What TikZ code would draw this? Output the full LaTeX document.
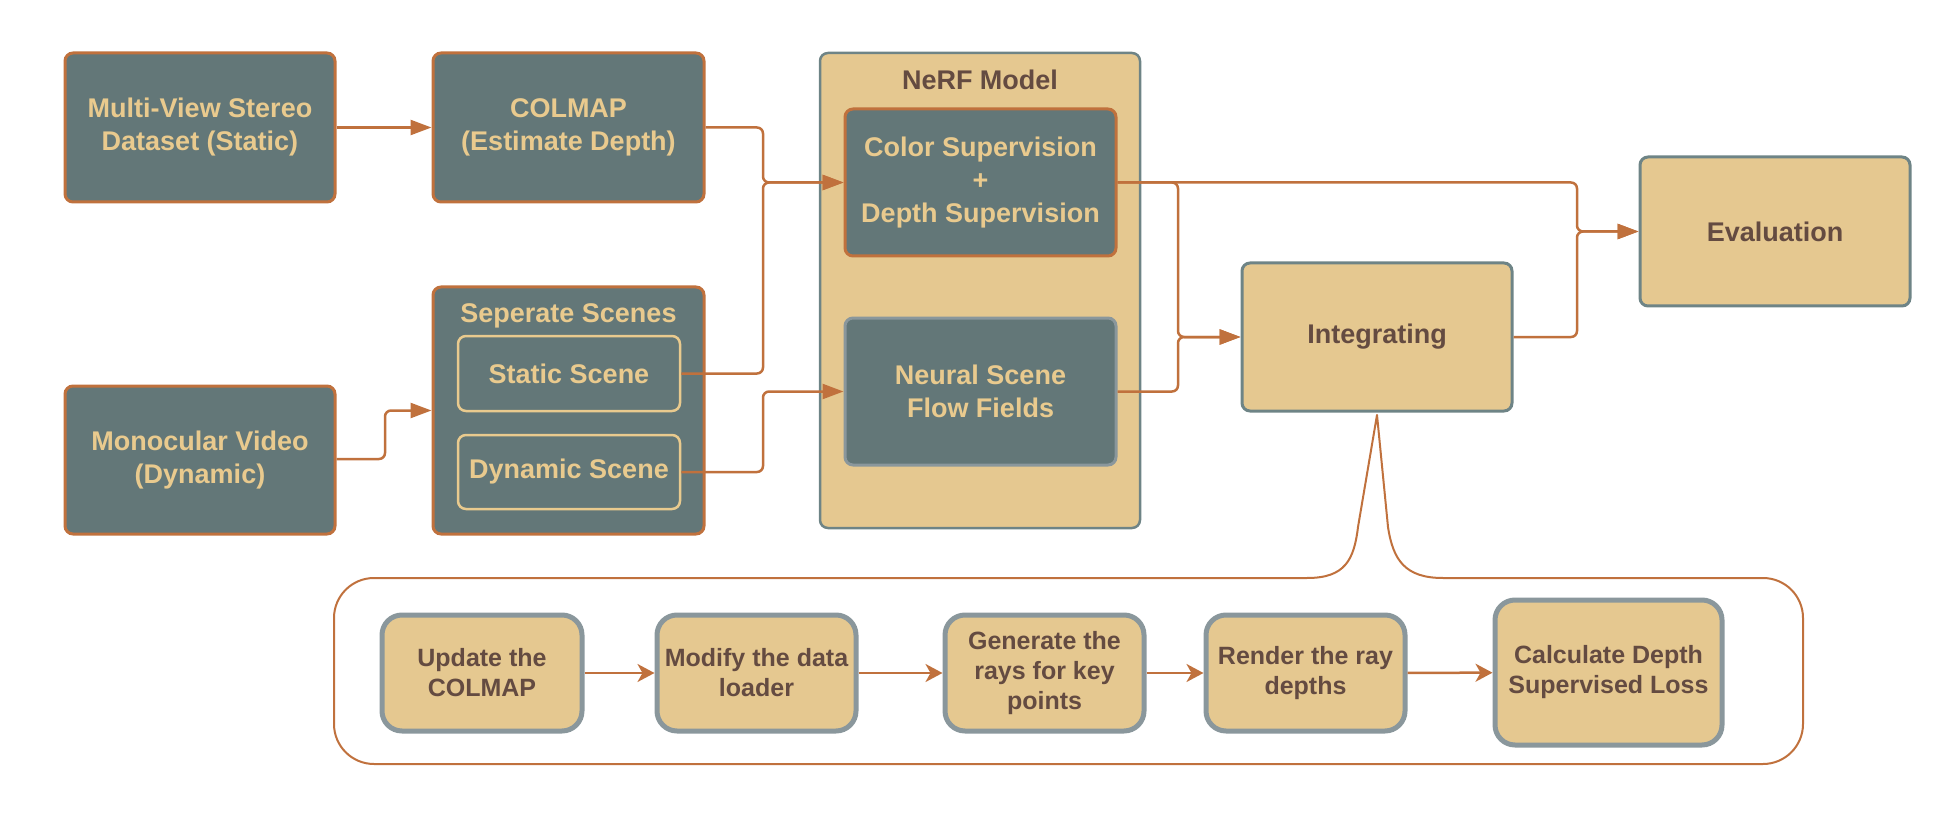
\documentclass[tikz,border=0pt]{standalone}
\usepackage{fontspec}
\setmainfont{Liberation Sans}
\usetikzlibrary{arrows.meta}
\definecolor{slate}{HTML}{637778}
\definecolor{rust}{HTML}{C0713D}
\definecolor{sand}{HTML}{E5C890}
\definecolor{sandtext}{HTML}{E9CA8E}
\definecolor{umber}{HTML}{644B41}
\definecolor{steel}{HTML}{6E8486}
\definecolor{mist}{HTML}{8A979C}

\begin{document}
\begin{tikzpicture}[x=1pt,y=-1pt,
	darkbox/.style={draw=rust, line width=3pt, fill=slate, rounded corners=8pt, inner sep=0pt,
		text=sandtext, align=center, font=\bfseries\fontsize{27}{33}\selectfont},
	lightbox/.style={draw=steel, line width=3pt, fill=sand, rounded corners=8pt, inner sep=0pt,
		text=umber, align=center, font=\bfseries\fontsize{27}{33}\selectfont},
	stepbox/.style={draw=mist, line width=5pt, fill=sand, rounded corners=20pt, inner sep=0pt,
		text=umber, align=center, font=\bfseries\fontsize{25}{30}\selectfont},
	link/.style={draw=rust, line width=2.5pt, rounded corners=6pt, -{Triangle[length=21pt,width=15pt]}},
	steplink/.style={draw=rust, line width=2.5pt, -{Stealth[length=17pt,width=18pt,inset=5pt]}}]
		\useasboundingbox (0,0) rectangle (1946,826);
		% left column
		\node[darkbox, minimum width=270, minimum height=149] (mvs) at (200,127.5) {Multi-View Stereo\\Dataset (Static)};
		\node[darkbox, minimum width=270, minimum height=148] (mono) at (200,460) {Monocular Video\\(Dynamic)};
		\node[darkbox, minimum width=271, minimum height=149] (colmap) at (568.5,127.5) {COLMAP\\(Estimate Depth)};
		\node[darkbox, minimum width=271, minimum height=247] (sep) at (568.5,410.5) {};
		\node[text=sandtext, font=\bfseries\fontsize{27}{33}\selectfont] (septitle) at (568.5,316) {Seperate Scenes};
		\node[darkbox, draw=sandtext, line width=2.5pt, minimum width=222, minimum height=75] (static) at (569,373.5) {Static Scene};
		\node[darkbox, draw=sandtext, line width=2.5pt, minimum width=222, minimum height=74] (dynamic) at (569,472) {Dynamic Scene};
		% NeRF model
		\node[lightbox, line width=2.5pt, minimum width=320, minimum height=475] (nerf) at (980,290.5) {};
		\node[text=umber, font=\bfseries\fontsize{27}{33}\selectfont] (nerftitle) at (980,80) {NeRF Model};
		\node[darkbox, minimum width=271, minimum height=147] (color) at (980.5,182.5) {Color Supervision\\+\\Depth Supervision};
		\node[darkbox, draw=mist, minimum width=271, minimum height=147] (flow) at (980.5,391.5) {Neural Scene\\Flow Fields};
		% right part
		\node[lightbox, minimum width=270, minimum height=148] (integ) at (1377,337) {Integrating};
		\node[lightbox, minimum width=270, minimum height=149] (eval) at (1775,231.5) {Evaluation};
		% steps
		\node[stepbox, minimum width=200, minimum height=116] (upd) at (482,673) {Update the\\COLMAP};
		\node[stepbox, minimum width=199, minimum height=116] (mod) at (756.5,673) {Modify the data\\loader};
		\node[stepbox, minimum width=199, minimum height=116] (gen) at (1044.5,673) {Generate the\\rays for key\\points};
		\node[stepbox, minimum width=199, minimum height=116] (ren) at (1305.5,673) {Render the ray\\depths};
		\node[stepbox, minimum width=227, minimum height=145] (calc) at (1608.5,672.5) {Calculate Depth\\Supervised Loss};
		% junctions
		\coordinate (j1) at (385,0);
		\coordinate (j2) at (763,0);
		\coordinate (j3) at (1178,0);
		\coordinate (j4) at (1577,0);
		\draw[link] (mvs.east |- colmap.west) -- (colmap.west);
		\draw[link] (mono.east |- 0,459) -- (j1 |- 0,459) -- (j1 |- sep.west) -- (sep.west);
		\draw[link] (colmap.east) -- (colmap.east -| j2) -- (j2 |- color.west) -- (color.west);
		\draw[link] (static.east) -- (static.east -| j2) -- (j2 |- color.west) -- (color.west);
		\draw[link] (dynamic.east) -- (dynamic.east -| j2) -- (j2 |- flow.west) -- (flow.west);
		\draw[link] (color.east) -- (color.east -| j3) -- (j3 |- integ.west) -- (integ.west);
		\draw[link] (flow.east) -- (flow.east -| j3) -- (j3 |- integ.west) -- (integ.west);
		\draw[link] (color.east) -- (color.east -| j4) -- (j4 |- eval.west) -- (eval.west);
		\draw[link] (integ.east) -- (integ.east -| j4) -- (j4 |- eval.west) -- (eval.west);
		\draw[steplink] (upd) -- (mod);
		\draw[steplink] (mod) -- (gen);
		\draw[steplink] (gen) -- (ren);
		\draw[steplink] (ren) -- (calc);
		% callout frame
		\coordinate (tip) at (1377,415);
		\draw[rust, line width=2pt, line join=round]
			(1307,578) .. controls (1345,578) and (1354,560) .. (1358,527) -- (tip)
			-- (1388,527) .. controls (1393,560) and (1405,578) .. (1443,578)
			[rounded corners=40pt] -- (1803,578) -- (1803,764) -- (334,764) -- (334,578) -- (1307,578);
\end{tikzpicture}
\end{document}
